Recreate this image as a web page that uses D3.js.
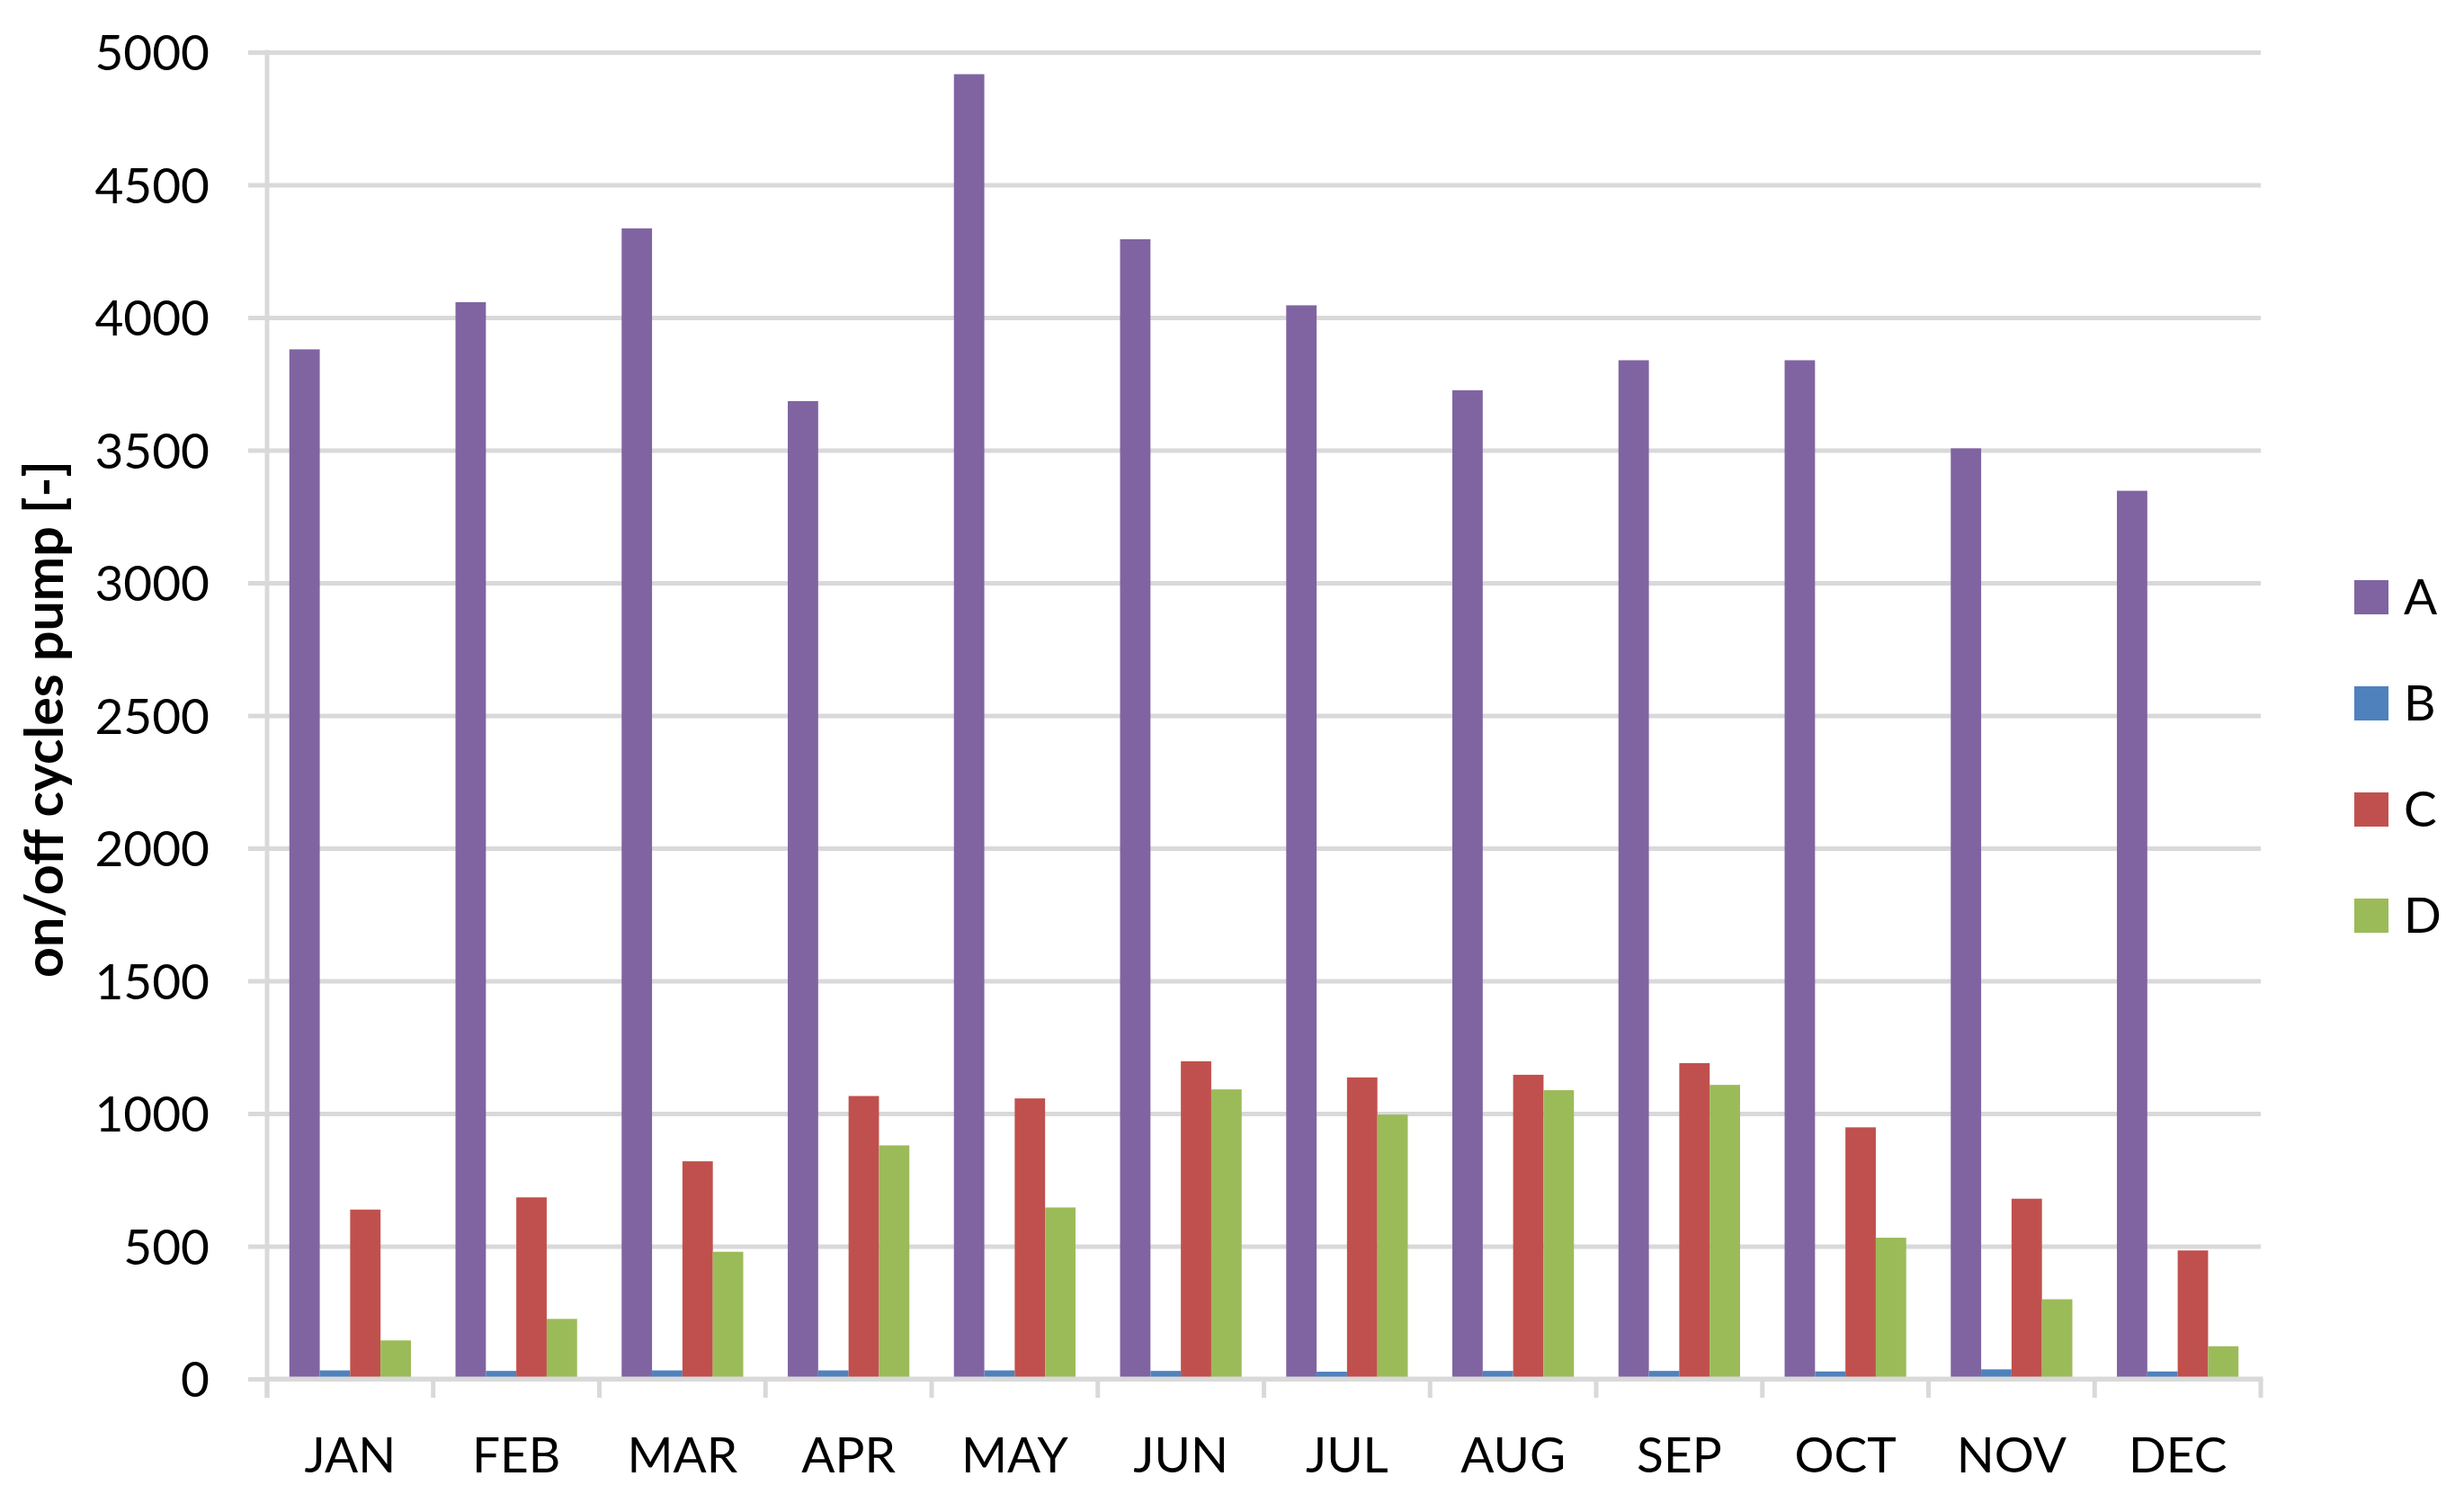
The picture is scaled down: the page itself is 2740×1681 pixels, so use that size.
<!DOCTYPE html>
<html>
<head>
<meta charset="utf-8">
<script src="https://cdn.jsdelivr.net/npm/d3@7"></script>
<style>
  html, body { margin: 0; padding: 0; background: #ffffff; }
  svg { display: block; }
  text { font-family: Lato, "Open Sans", sans-serif; fill: #000; }
</style>
</head>
<body>
<svg id="chart" width="2740" height="1681"></svg>
<script>
// ---- data ----
const months = ["JAN","FEB","MAR","APR","MAY","JUN","JUL","AUG","SEP","OCT","NOV","DEC"];
const seriesNames = ["A","B","C","D"];
const valuesA = [3880, 4058, 4336, 3685, 4917, 4295, 4046, 3726, 3839, 3839, 3507, 3347];
const valuesB = [32, 30, 32, 32, 32, 30, 27, 30, 30, 28, 36, 28];
const valuesC = [638, 684, 820, 1066, 1057, 1197, 1136, 1146, 1190, 948, 679, 484];
const valuesD = [145, 226, 479, 880, 646, 1091, 996, 1088, 1108, 532, 300, 123];
const yTicks = [0, 500, 1000, 1500, 2000, 2500, 3000, 3500, 4000, 4500, 5000];
const yTitle = "on/off cycles pump [-]";
const colors = ["#8064A2", "#4F81BD", "#C0504D", "#9BBB59"];

const seriesValues = [valuesA, valuesB, valuesC, valuesD];
const rows = months.map((m, i) => ({
  month: m,
  vals: seriesNames.map((s, k) => ({ key: s, value: seriesValues[k][i] }))
}));

// ---- layout ----
const plotLeft = 297, plotRight = 2514, plotTop = 58, plotBottom = 1533;
const gridColor = "#D9D9D9";
const fontSize = 55;

const svg = d3.select("#chart");

const x0 = d3.scaleBand().domain(months).range([plotLeft, plotRight]).paddingInner(0).paddingOuter(0);
const x1 = d3.scaleBand().domain(seriesNames).range([0, x0.bandwidth()]).paddingInner(0).paddingOuter(0.733);
const y = d3.scaleLinear().domain([0, 5000]).range([plotBottom, plotTop]);
const color = d3.scaleOrdinal().domain(seriesNames).range(colors);

// gridlines + y tick labels
const yAxis = d3.axisLeft(y).tickValues(yTicks).tickSize(plotRight - 276).tickPadding(43).tickFormat(d3.format("d"));
svg.append("g")
  .attr("transform", `translate(${plotRight},0)`)
  .call(yAxis)
  .call(g => g.select(".domain").remove())
  .call(g => g.selectAll(".tick line").attr("stroke", gridColor).attr("stroke-width", 5))
  .call(g => g.selectAll(".tick text")
    .attr("font-size", fontSize)
    .attr("font-family", "Lato, sans-serif")
    .attr("fill", "#000")
    .attr("dy", "0.36em"));

// y axis line
svg.append("line")
  .attr("x1", plotLeft).attr("x2", plotLeft)
  .attr("y1", y(5000) - 2.5).attr("y2", plotBottom + 21)
  .attr("stroke", gridColor).attr("stroke-width", 5);

// bars
const groups = svg.append("g").selectAll("g")
  .data(rows).join("g")
  .attr("transform", d => `translate(${x0(d.month)},0)`);
groups.selectAll("rect")
  .data(d => d.vals).join("rect")
  .attr("x", d => x1(d.key))
  .attr("width", x1.bandwidth())
  .attr("y", d => y(d.value))
  .attr("height", d => y(0) - y(d.value))
  .attr("fill", d => color(d.key));

// x axis: baseline + boundary ticks
svg.append("line")
  .attr("x1", plotLeft).attr("x2", plotRight + 2.5)
  .attr("y1", plotBottom).attr("y2", plotBottom)
  .attr("stroke", gridColor).attr("stroke-width", 5);
const boundaries = months.map(m => x0(m)).concat([x0(months[months.length - 1]) + x0.bandwidth()]);
svg.append("g").selectAll("line")
  .data(boundaries).join("line")
  .attr("x1", d => d).attr("x2", d => d)
  .attr("y1", plotBottom).attr("y2", plotBottom + 21)
  .attr("stroke", gridColor).attr("stroke-width", 5);

// x labels
svg.append("g")
  .attr("transform", `translate(0,${plotBottom})`)
  .call(d3.axisBottom(x0).tickSize(0).tickPadding(0))
  .call(g => g.select(".domain").remove())
  .call(g => g.selectAll(".tick text")
    .attr("font-size", fontSize)
    .attr("font-family", "Lato, sans-serif")
    .attr("fill", "#000")
    .attr("y", 104).attr("dy", 0));

// y title
svg.append("text")
  .attr("transform", `translate(70,${(plotTop + plotBottom) / 2 + 4}) rotate(-90)`)
  .attr("text-anchor", "middle")
  .attr("font-size", 59)
  .attr("font-weight", "bold")
  .text(yTitle);

// legend
const legend = svg.append("g").selectAll("g")
  .data(seriesNames).join("g")
  .attr("transform", (d, i) => `translate(2618,${645 + i * 118})`);
legend.append("rect")
  .attr("width", 38).attr("height", 38)
  .attr("fill", d => color(d));
legend.append("text")
  .attr("x", 55).attr("y", 38)
  .attr("font-size", fontSize)
  .text(d => d);
</script>
</body>
</html>
